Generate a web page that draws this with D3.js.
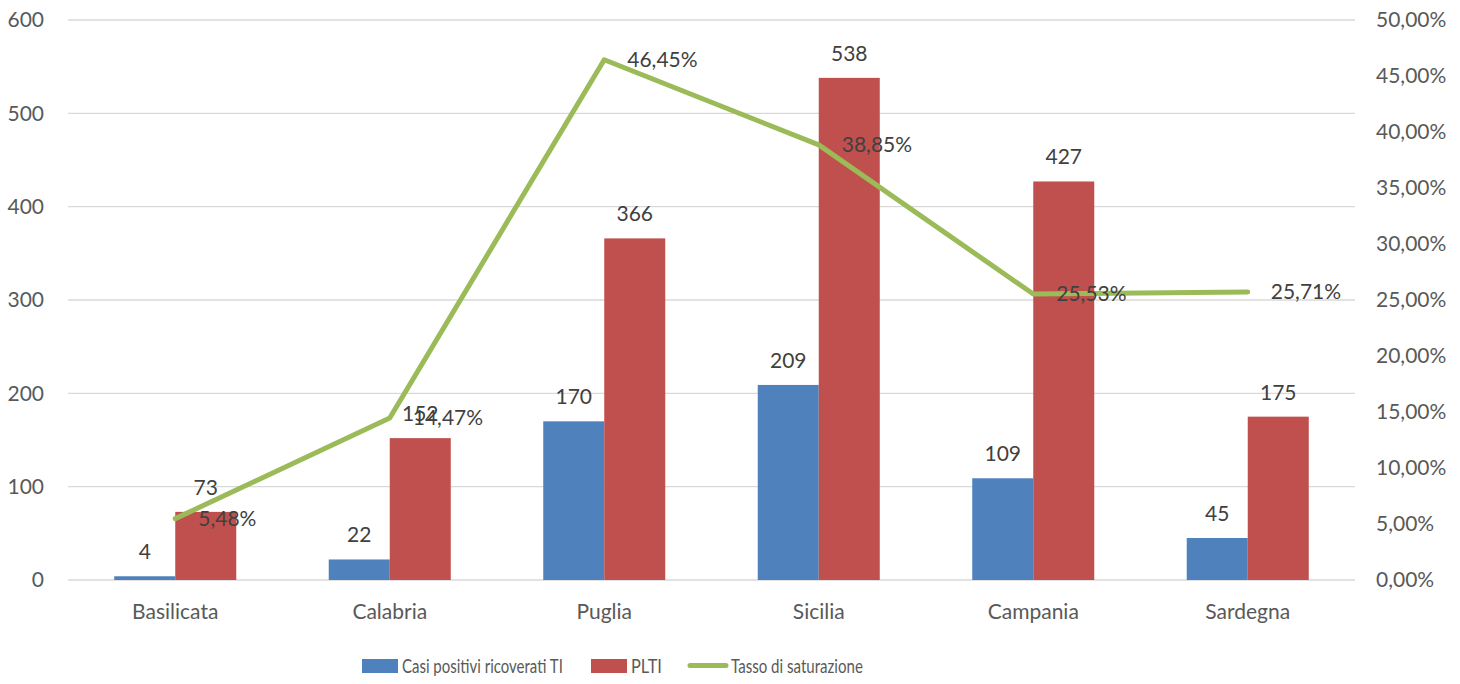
<!DOCTYPE html>
<html><head><meta charset="utf-8">
<script src="https://cdn.jsdelivr.net/npm/d3@7"></script>
<style>body{margin:0;background:#fff;} svg{display:block;font-family:Lato, "Open Sans", sans-serif;}</style>
</head><body><svg id="c" width="1460" height="684"></svg>
<script>
const categories = ["Basilicata","Calabria","Puglia","Sicilia","Campania","Sardegna"];
const casiPositivi = [4,22,170,209,109,45];
const plti = [73,152,366,538,427,175];
const tasso = [5.48,14.47,46.45,38.85,25.53,25.71];
const leftTicks = [0,100,200,300,400,500,600];
const rightTicks = [0,5,10,15,20,25,30,35,40,45,50];
const seriesNames = ["Casi positivi ricoverati TI","PLTI","Tasso di saturazione"];
const colors = ["#4F81BD","#C0504D","#9BBB59"];

const svg = d3.select("#c");
const L = 68, R = 1355, T = 20, B = 580;
const x = d3.scaleBand().domain(categories).range([L,R]).padding(0);
const bw = x.bandwidth();
const x1 = d3.scaleBand().domain([0,1]).range([0,bw]).paddingInner(0).paddingOuter(0.758);
const y = d3.scaleLinear().domain([0,600]).range([B,T]);
const y2 = d3.scaleLinear().domain([0,50]).range([B,T]);
const fs = 21;

// gridlines
svg.append("g").selectAll("line").data(leftTicks).join("line")
  .attr("x1",L).attr("x2",R).attr("y1",d=>y(d)).attr("y2",d=>y(d))
  .attr("stroke","#d9d9d9").attr("stroke-width",1.3);

// left axis
const la = svg.append("g").attr("transform",`translate(${L},0)`)
  .call(d3.axisLeft(y).tickValues(leftTicks).tickSize(0).tickPadding(24));
la.select(".domain").remove();
la.selectAll("text").attr("font-size",fs).attr("fill","#595959").attr("font-family","Lato");

// right axis
const fmtPct = d => d.toFixed(2).replace(".",",") + "%";
const ra = svg.append("g").attr("transform",`translate(${R},0)`)
  .call(d3.axisRight(y2).tickValues(rightTicks).tickSize(0).tickPadding(21).tickFormat(fmtPct));
ra.select(".domain").remove();
ra.selectAll("text").attr("font-size",fs).attr("fill","#595959").attr("font-family","Lato");

// bottom axis
const ba = svg.append("g").attr("transform",`translate(0,${B})`)
  .call(d3.axisBottom(x).tickSize(0).tickPadding(24));
ba.select(".domain").remove();
ba.selectAll("text").attr("font-size",fs).attr("fill","#595959").attr("font-family","Lato");

// bars
const series = [casiPositivi, plti];
series.forEach((vals,si)=>{
  const g = svg.append("g");
  g.selectAll("rect").data(vals).join("rect")
    .attr("x",(d,i)=>x(categories[i])+x1(si))
    .attr("width",x1.bandwidth())
    .attr("y",d=>y(d)).attr("height",d=>B-y(d))
    .attr("fill",colors[si]);
  g.selectAll("text").data(vals).join("text")
    .attr("x",(d,i)=>x(categories[i])+x1(si)+x1.bandwidth()/2)
    .attr("y",d=>y(d)-17)
    .attr("text-anchor","middle").attr("font-size",fs).attr("fill","#404040")
    .text(d=>d);
});

// line
const cx = c => x(c)+bw/2;
svg.append("path").datum(tasso)
  .attr("d", d3.line().x((d,i)=>cx(categories[i])).y(d=>y2(d)))
  .attr("fill","none").attr("stroke",colors[2]).attr("stroke-width",5)
  .attr("stroke-linecap","round").attr("stroke-linejoin","round");
svg.append("g").selectAll("text").data(tasso).join("text")
  .attr("x",(d,i)=>cx(categories[i])+23)
  .attr("y",d=>y2(d)).attr("dy","0.35em")
  .attr("font-size",fs).attr("fill","#404040")
  .text(fmtPct);

// legend
const lg = svg.append("g");
const leg = [
  {sym:"rect", x:362, tx:402, tw:161},
  {sym:"rect", x:591, tx:631, tw:31},
  {sym:"line", x:688, tx:731, tw:132}
];
leg.forEach((l,i)=>{
  if(l.sym==="rect") lg.append("rect").attr("x",l.x).attr("y",659).attr("width",36).attr("height",14).attr("fill",colors[i]);
  else lg.append("line").attr("x1",l.x+2).attr("x2",l.x+38).attr("y1",665.5).attr("y2",665.5).attr("stroke",colors[i]).attr("stroke-width",5).attr("stroke-linecap","round");
  const t = lg.append("text").attr("x",0).attr("y",0).attr("dy","0.35em")
    .attr("font-size",20).attr("fill","#595959")
    .text(seriesNames[i]);
  const w = t.node().getComputedTextLength();
  t.attr("transform",`translate(${l.tx},666) scale(${l.tw/w},1)`);
});
</script></body></html>
